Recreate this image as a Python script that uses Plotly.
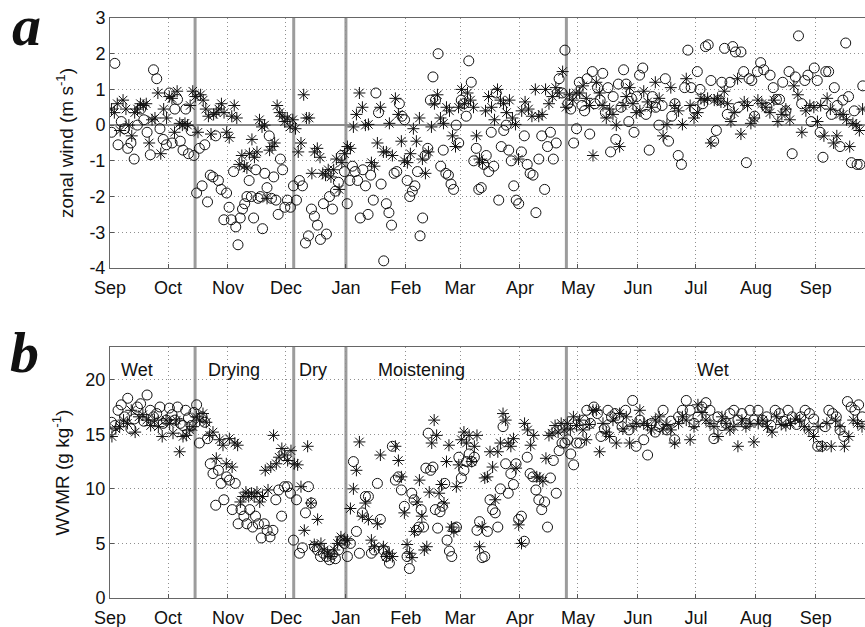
import pandas as pd
import plotly.graph_objects as go

# ---------------- data ----------------
month_starts = ["2005-09-01", "2005-10-01", "2005-11-01", "2005-12-01", "2006-01-01",
                "2006-02-01", "2006-03-01", "2006-04-01", "2006-05-01", "2006-06-01",
                "2006-07-01", "2006-08-01", "2006-09-01"]
month_labels = ["Sep", "Oct", "Nov", "Dec", "Jan", "Feb", "Mar", "Apr", "May", "Jun", "Jul", "Aug", "Sep"]
data_end = "2006-09-26"
x_end = "2006-09-26 10:00"
regime_bounds = ["2005-10-15", "2005-12-05", "2006-01-01", "2006-04-25"]
regime_names = ["Wet", "Drying", "Dry", "Moistening", "Wet"]
regime_label_dates = ["2005-09-15", "2005-11-04", "2005-12-15", "2006-02-09", "2006-07-10"]
wind_ticks = [-4, -3, -2, -1, 0, 1, 2, 3]
wvmr_ticks = [0, 5, 10, 15, 20]

# zonal wind (m/s), circles, one list per month
wind_o = [
    [-0.2, 1.73, -0.55, 0.1, -0.1, -0.65, -0.5, -0.95, 0.0, 0.45, 0.15, -0.2, -0.83, 1.55, 1.3, -0.1, -0.4, -0.55],
    [0.9, -0.5, 0.45, 0.72, -0.45, -0.7, 0.45, -0.8, -0.15, -0.85, -1.9, -0.65, -1.7, -0.55, -2.15, -1.4, -1.45, -0.3, -1.55, -1.8, -2.65, -1.9],
    [-2.3, -2.65, -1.3, -2.85, -3.35, -2.6, -2.35, -2.2, -2.0, -1.55, -2.0, -2.6, -1.25, -2.05, -2.0, -2.9, -1.35, -1.75, -0.3, -2.05, -1.45, -2.1, -2.5, -0.95, -1.25, -2.3],
    [-2.1, -2.3, -1.7, -2.1, -1.55, -1.7, -3.3, -3.1, -2.35, -2.55, -2.8, -3.2, -2.2, -3.05, -2.0, -2.35, -1.85, -1.6, -0.85, -1.3],
    [-2.2, -1.55, -1.15, -1.3, -1.55, -2.6, -1.25, -1.7, -2.5, -1.4, -2.1, 0.9, 0.35, -1.65, -3.8, -2.2, -2.45, -2.8, -1.35, -1.3, 0.6, 0.25, 0.15],
    [-1.55, -2.0, -1.85, -1.7, -1.3, -3.1, -2.6, -0.85, -0.65, 0.7, 1.35, 0.7, 2.0, -1.15, -0.7, -1.35, -1.4, -1.65, -1.8, 0.0, -0.5],
    [0.7, 0.6, 0.25, 1.8, 1.2, -1.0, -0.65, -1.8, -1.75, -1.1, -0.85, -1.3, -0.2, -1.15, 0.9, -2.1, -0.6, -0.15, 0.0, -0.7, -1.0, -1.7, -2.1, -2.2],
    [-0.75, -0.3, -1.1, -1.35, -1.4, -2.45, -0.95, -0.3, -1.8, -0.6, -0.2, -0.95, -0.5, 1.3, 0.9, 2.1, 0.6, 0.45, -0.5, -0.1],
    [1.2, 0.55, 0.4, 1.3, -0.25, 1.5, 0.6, 1.05, 0.7, 1.45, 0.35, 1.05, -0.75, 0.8, -0.4, 1.15, 0.5, 1.55, 1.15, 0.1, 0.75, -0.2, 0.8],
    [1.4, 1.6, 0.3, -0.7, 0.8, 0.5, 0.0, 0.55, 1.3, -0.45, 0.25, 0.6, -0.85, -1.1, 1.05, 2.1, 1.05, 0.45],
    [1.5, 1.0, 0.6, 2.2, 2.25, 1.25, -0.45, -0.15, 0.7, 1.2, 2.15, 0.3, 1.2, 2.2, 2.05, 0.5, 2.05, 1.5, -1.05, 1.3, 1.25, 0.25],
    [1.5, 1.75, 1.55, 0.5, 1.4, 1.05, 0.72, 0.72, 1.2, 0.4, 1.5, -0.8, 1.35, 2.5, 0.6, 1.25, 1.4, 0.1, 1.6],
    [1.25, -0.2, -0.9, 1.5, 1.5, 0.3, 1.05, 0.55, -0.6, 0.7, 2.3, 0.8, -1.05, 0.4, -1.1, -1.1, 1.1],
]

# zonal wind (m/s), asterisks
wind_s = [
    [0.45, 0.35, 0.6, -0.15, 0.7, 0.45, 0.0, -0.3, 0.35, 0.45, 0.6, 0.55, 0.6, -0.5, 0.15, 0.2, 0.9, -0.8, 0.45, 0.2],
    [0.8, 0.75, -0.2, 0.95, 0.05, 0.0, 0.05, 0.0, 0.55, 0.95, 0.8, -0.2, 0.85, 0.7, 0.45, 0.25, -0.25, 0.3, 0.35, 0.45, 0.6, 0.35, -0.2],
    [-0.35, 0.25, 0.55, 0.2, -1.1, -0.85, -1.15, -1.2, -0.8, -0.4, -0.9, -0.75, 0.15, -0.05, 0.0, -2.05, -0.7, -0.6, -0.5, 0.55, 0.35, 0.25, 0.1],
    [0.2, -0.05, 0.15, -0.1, -0.75, -0.5, 0.85, 0.2, 0.2, -1.35, -0.75, -0.65, -0.9, -1.35, -1.4, -1.25, -1.45, -1.25, -0.95, -1.8, -1.05, -0.8],
    [-0.6, -0.65, -0.05, 0.3, 0.9, 0.5, 0.0, 0.02, -1.05, -1.15, -0.5, 0.5, -0.75, -0.75, 0.05, -0.85, 0.75, 0.3, -0.45, -1.0],
    [-1.05, -0.8, -0.1, -0.45, 0.2, -0.95, -1.35, -0.75, -0.05, 0.6, 0.85, 0.2, 0.05, 0.5, 0.4, -0.3, -0.6, 0.5],
    [1.0, 0.6, 0.9, 0.7, 0.5, -0.3, -0.95, -1.05, 0.4, 0.8, 0.5, 0.15, 1.0, 0.7, 0.6, 0.35, 0.7, 0.2, 0.02, -0.95],
    [0.4, 0.65, 0.45, 0.25, 1.0, 0.25, 0.3, 1.0, 0.6, 0.8, 1.05, 0.9, 1.5, 0.5, 0.85, 0.7, 0.9],
    [0.9, 1.1, 0.75, 0.55, -0.85, 1.2, 0.9, 0.55, 0.2, 0.45, 0.3, 0.0, -0.6, 0.55, 0.8, 1.05, 0.6, 0.35],
    [0.4, 0.95, 0.65, 0.5, 1.2, 0.75, -0.3, 0.02, 1.05, 0.55, 0.4, 0.02, 1.3, 0.55, 0.2],
    [0.35, 0.75, 0.7, 0.75, -0.5, 0.7, 0.75, 0.65, 0.95, 0.6, 0.1, 0.35, 1.3, -0.25, 0.65, 0.55, 0.05, 0.2],
    [0.7, 0.6, 0.5, 0.35, 0.7, 0.1, 0.3, 0.45, 0.15, 1.1, 0.85, -0.2, 0.4, 0.55, 0.5],
    [0.1, 0.55, -0.3, 0.75, 0.45, -0.5, -0.3, 0.3, 0.3, 0.15, -0.6, 0.05, 0.0, -0.15, 0.45],
]

# water vapour mixing ratio (g/kg), circles
wvmr_o = [
    [16.1, 15.8, 17.2, 17.7, 16.6, 18.3, 15.5, 16.4, 17.5, 17.8, 16.2, 18.6, 17.2, 16.6, 16.9, 17.5, 16.0, 16.3],
    [17.4, 16.8, 16.3, 17.5, 16.0, 15.8, 17.2, 16.5, 15.8, 17.0, 17.7, 14.2, 16.6, 16.1, 14.6, 12.3, 11.4, 8.5, 11.7, 10.5, 9.0, 11.1],
    [10.8, 8.1, 10.5, 6.8, 8.1, 7.5, 6.8, 8.1, 6.5, 7.5, 6.8, 5.5, 6.8, 6.2, 5.6, 6.2, 9.0, 9.9, 7.5, 10.2],
    [10.2, 9.6, 5.3, 9.0, 4.1, 4.6, 7.8, 10.2, 8.7, 4.7, 4.4, 3.8, 4.1, 3.8, 3.5, 4.0, 3.6, 4.4, 5.3, 5.0],
    [3.8, 5.0, 12.5, 6.1, 4.1, 7.8, 9.3, 9.3, 4.1, 4.4, 10.5, 7.2, 4.4, 3.8, 3.2, 13.9, 10.8, 11.1, 9.9, 8.4],
    [3.8, 2.7, 9.6, 9.0, 6.2, 6.5, 8.1, 6.5, 11.9, 15.1, 11.7, 12.0, 8.1, 6.4, 7.9, 8.4, 10.5, 5.3, 4.3, 3.8, 6.4, 6.5, 12.9],
    [11.0, 11.7, 12.5, 13.2, 12.5, 12.9, 6.2, 7.0, 3.7, 3.8, 6.1, 9.0, 8.1, 7.8, 6.5, 10.0, 15.7, 12.3, 9.6, 11.4, 10.4, 12.3, 7.2],
    [7.5, 5.2, 12.9, 11.4, 11.1, 9.9, 9.0, 8.1, 8.8, 6.5, 11.0, 12.6, 9.6, 13.5, 14.2, 14.2, 14.5, 13.2, 12.2, 14.2],
    [14.2, 16.3, 17.2, 16.0, 17.5, 16.9, 14.8, 15.5, 17.2, 16.6, 16.9, 16.5, 15.7, 17.2, 15.4, 18.1, 13.9],
    [16.3, 14.5, 13.1, 16.0, 15.2, 15.7, 17.2, 15.4, 16.2, 14.5, 16.6, 17.2, 18.1, 17.2, 16.0],
    [16.6, 17.5, 17.9, 17.2, 14.6, 16.6, 15.8, 16.0, 16.9, 17.2, 16.3, 16.9, 16.0, 17.2, 16.3],
    [17.2, 16.3, 16.6, 15.8, 17.2, 16.9, 16.2, 17.2, 16.6, 15.9, 16.6, 17.2, 16.9, 16.4],
    [13.9, 13.9, 15.7, 17.2, 16.9, 16.6, 15.4, 14.8, 18.0, 17.5, 17.2, 17.7, 16.6],
]

# water vapour mixing ratio (g/kg), asterisks
wvmr_s = [
    [14.8, 15.5, 15.7, 16.3, 16.0, 17.2, 15.2, 16.6, 16.8, 16.3, 15.8, 16.3, 15.7, 14.8, 16.3],
    [16.0, 15.1, 16.3, 13.4, 14.8, 14.9, 15.4, 15.7, 16.6, 16.3, 16.9, 16.1, 14.9, 15.2, 12.8, 14.5, 14.0, 12.3],
    [14.6, 12.0, 14.2, 14.0, 8.8, 9.3, 9.7, 9.3, 9.6, 9.3, 9.7, 8.8, 9.3, 11.7, 9.9, 12.0, 14.9, 12.3, 12.9, 13.7, 13.1],
    [12.6, 13.5, 12.3, 12.2, 10.2, 6.2, 13.9, 8.7, 4.9, 7.2, 5.0, 4.4, 4.1, 3.8, 4.4, 5.0, 5.6, 5.3],
    [5.3, 8.2, 10.0, 11.7, 14.3, 7.5, 8.7, 7.2, 5.3, 4.7, 6.8, 13.1, 4.7, 3.8, 4.1, 3.8, 13.9, 12.6, 11.1, 7.8],
    [4.9, 4.1, 3.7, 6.1, 8.8, 10.8, 7.5, 4.4, 4.7, 9.7, 14.2, 16.3, 14.9, 9.6, 10.4, 8.7, 12.5, 14.0, 6.5, 6.1, 10.2, 12.2],
    [14.5, 15.2, 14.2, 14.9, 12.5, 13.9, 14.9, 4.7, 6.5, 11.0, 11.1, 13.4, 12.0, 9.0, 13.4, 14.2, 16.9, 16.3, 14.2, 13.9, 14.6, 11.9, 6.7],
    [5.0, 16.0, 15.4, 14.0, 14.9, 11.1, 11.0, 10.7, 12.8, 14.9, 15.1, 15.8, 15.2, 16.0, 15.4, 16.0, 15.5, 16.6, 15.8],
    [16.3, 15.4, 14.5, 15.9, 17.2, 17.2, 13.4, 16.0, 15.2, 14.8, 16.3, 14.2, 16.9, 15.5, 16.6, 14.2, 15.7, 16.0],
    [17.2, 16.0, 15.8, 15.4, 16.3, 16.6, 15.5, 15.9, 15.4, 14.2, 16.0, 16.6, 16.3, 14.5, 15.7],
    [17.7, 17.0, 16.3, 16.0, 15.7, 14.8, 16.6, 16.0, 15.4, 15.7, 13.9, 16.3, 15.7, 16.0, 14.3],
    [16.0, 16.3, 15.7, 15.2, 16.6, 15.9, 15.8, 16.0, 16.4, 16.3, 15.7, 15.4, 14.8],
    [15.7, 13.9, 16.0, 13.9, 16.3, 15.7, 13.9, 14.8, 16.3, 16.0, 15.7],
]


# ---------------- helpers ----------------
def spread(monthly):
    """Place each month's observations in time order across that month."""
    xs, ys = [], []
    bounds = [pd.Timestamp(m) for m in month_starts] + [pd.Timestamp(data_end)]
    for m, vals in enumerate(monthly):
        t0, t1 = bounds[m], bounds[m + 1]
        n = len(vals)
        for i, v in enumerate(vals):
            t = t0 + (t1 - t0) * (i + 0.5) / n
            xs.append(t.strftime("%Y-%m-%d %H:%M:%S"))
            ys.append(v)
    return xs, ys


FONT = "Liberation Sans, Arial, Helvetica, sans-serif"
INK = "#111111"

fig = go.Figure()

def add_series(monthly, symbol, xa, ya, size):
    xs, ys = spread(monthly)
    fig.add_trace(go.Scatter(
        x=xs, y=ys, mode="markers", xaxis=xa, yaxis=ya, showlegend=False,
        marker=dict(symbol=symbol, size=size, color=INK,
                    line=dict(color=INK, width=1)),
    ))

add_series(wind_o, "circle-open", "x", "y", 10)
add_series(wind_s, "asterisk-open", "x", "y", 10)
add_series(wvmr_o, "circle-open", "x2", "y2", 10)
add_series(wvmr_s, "asterisk-open", "x2", "y2", 10)

xcommon = dict(
    range=[month_starts[0], x_end], type="date",
    tickvals=month_starts, ticktext=month_labels,
    ticks="inside", ticklen=4, tickcolor="#555",
    showgrid=True, gridcolor="#8f8f8f", griddash="1px,3px", gridwidth=1,
    showline=True, linecolor="#666", linewidth=1, mirror=True,
    tickfont=dict(family=FONT, size=18, color=INK),
    ticklabelstandoff=3,
    zeroline=False,
)
ycommon = dict(
    ticks="inside", ticklen=4, tickcolor="#555",
    showgrid=True, gridcolor="#8f8f8f", griddash="1px,3px", gridwidth=1,
    showline=True, linecolor="#666", linewidth=1,
    tickfont=dict(family=FONT, size=18, color=INK),
)

fig.update_layout(
    width=865, height=627,
    margin=dict(l=110, r=0, t=18, b=29),
    paper_bgcolor="white", plot_bgcolor="white",
    xaxis=dict(**xcommon, anchor="y", domain=[0, 1]),
    xaxis2=dict(**xcommon, anchor="y2", domain=[0, 1]),
    yaxis=dict(**ycommon, domain=[0.569, 1.0], range=[-4, 3],
               tickvals=wind_ticks, ticktext=[str(v) for v in wind_ticks],
               zeroline=True, zerolinecolor="#8a8a8a", zerolinewidth=1.5,
               title=dict(text="zonal wind (m s<sup>-1</sup>)", standoff=10,
                          font=dict(family=FONT, size=19, color=INK))),
    yaxis2=dict(**ycommon, domain=[0.0, 0.4328], range=[0, 23],
                tickvals=wvmr_ticks, ticktext=[str(v) for v in wvmr_ticks], zeroline=False,
                title=dict(text="WVMR (g kg<sup>-1</sup>)", standoff=10,
                           font=dict(family=FONT, size=19, color=INK))),
)

# regime boundary lines in both panels
for d in regime_bounds:
    for xr, yr in (("x", "y domain"), ("x2", "y2 domain")):
        fig.add_shape(type="line", xref=xr, yref=yr, x0=d, x1=d, y0=0, y1=1,
                      line=dict(color="#9c9c9c", width=3), layer="below")

# regime names in panel b
for name, d in zip(regime_names, regime_label_dates):
    fig.add_annotation(x=d, y=20.9, xref="x2", yref="y2", text=name, showarrow=False,
                       font=dict(family=FONT, size=18, color=INK))

# panel letters
fig.add_annotation(x=-0.132, y=1.0, xref="paper", yref="paper", xanchor="left", yanchor="middle",
                   yshift=-7, text="<b><i>a</i></b>", showarrow=False,
                   font=dict(family="Liberation Serif, DejaVu Serif, serif", size=58, color="#111"))
fig.add_annotation(x=-0.135, y=0.4328, xref="paper", yref="paper", xanchor="left", yanchor="middle",
                   yshift=-6, text="<b><i>b</i></b>", showarrow=False,
                   font=dict(family="Liberation Serif, DejaVu Serif, serif", size=58, color="#111"))

fig.write_html("out.html")
